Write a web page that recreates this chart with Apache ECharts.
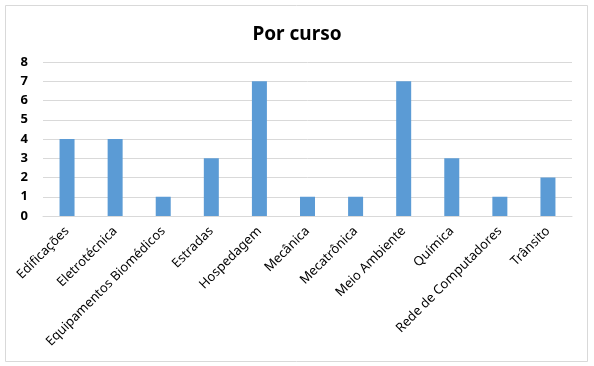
<!DOCTYPE html>
<html><head><meta charset="utf-8">
<script src="https://cdn.jsdelivr.net/npm/echarts@6/dist/echarts.min.js"></script>
<style>html,body{margin:0;padding:0;background:#fff}#c{width:594px;height:366px}</style>
</head><body><div id="c"></div>
<script>
const titleText = "Por curso";
const categories = ["Edificações","Eletrotécnica","Equipamentos Biomédicos","Estradas","Hospedagem","Mecânica","Mecatrônica","Meio Ambiente","Química","Rede de Computadores","Trânsito"];
const values = [4,4,1,3,7,1,1,7,3,1,2];
const yTicks = [0,1,2,3,4,5,6,7,8];

const chart = echarts.init(document.getElementById('c'));
chart.setOption({
  animation:false,
  backgroundColor:'#fff',
  graphic:[{type:'rect',shape:{x:5.5,y:5.5,width:582,height:356},style:{fill:'none',stroke:'#D9D9D9',lineWidth:1},silent:true}],
  title:{text:titleText,left:'center',top:20,textStyle:{fontFamily:'Noto Sans',fontWeight:'bold',fontSize:19,color:'#000'}},
  grid:{left:43,right:22,top:62,bottom:150,containLabel:false},
  xAxis:{type:'category',data:categories,
    axisLine:{lineStyle:{color:'#D9D9D9'}},axisTick:{show:false},
    axisLabel:{rotate:45,interval:0,margin:13,fontFamily:'Noto Sans',fontSize:13,color:'#000'}},
  yAxis:{type:'value',min:yTicks[0],max:yTicks[yTicks.length-1],interval:1,
    axisLine:{show:false},axisTick:{show:false},
    splitLine:{lineStyle:{color:'#D9D9D9'}},
    axisLabel:{margin:15,fontFamily:'Noto Sans',fontWeight:'bold',fontSize:13,color:'#000'}},
  series:[{type:'bar',data:values,barWidth:15,itemStyle:{color:'#5B9BD5'}}]
});
</script></body></html>
